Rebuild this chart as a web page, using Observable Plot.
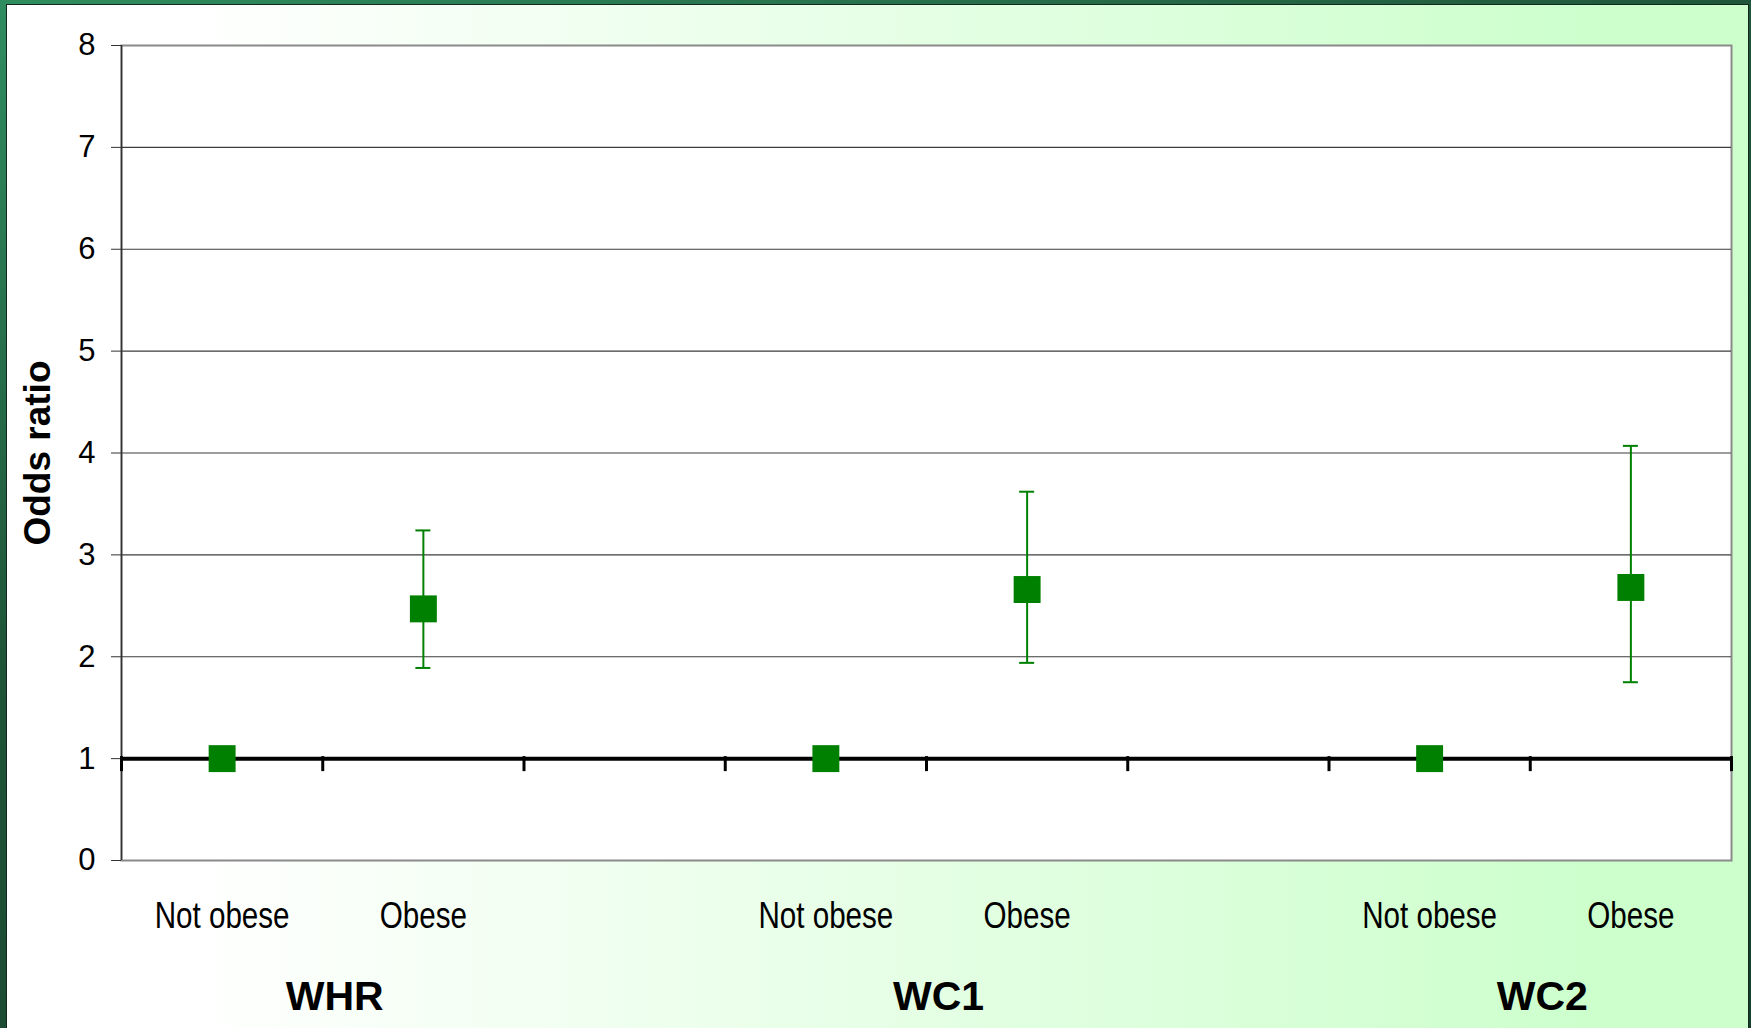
<!DOCTYPE html>
<html>
<head>
<meta charset="utf-8">
<script src="https://cdn.jsdelivr.net/npm/d3@7"></script>
<script src="https://cdn.jsdelivr.net/npm/@observablehq/plot@0.6"></script>
<style>
html, body { margin: 0; padding: 0; width: 1751px; height: 1028px; overflow: hidden; }
body {
  position: relative;
  background: linear-gradient(160deg, #2f8d5f 0%, #1f5438 40%, #173f2b 100%);
  font-family: "Liberation Sans", Arial, sans-serif;
}
#panel {
  position: absolute; left: 6px; top: 4px; width: 1743px; height: 1024px;
  box-sizing: border-box; border: 1px solid #0f2a1c; border-bottom: none;
  background: linear-gradient(to right, #ffffff 0%, #ffffff 10%, #ccffcc 92%, #ccffcc 100%);
}
#chart { position: absolute; left: 0; top: 0; }
</style>
</head>
<body>
<div id="panel"></div>
<div id="chart"></div>
<script>
// ---- data ----
const groupNames = ["WHR", "WC1", "WC2"];
const categoryGroup = ["WHR", "WHR", "WHR", "WC1", "WC1", "WC1", "WC2", "WC2"];
const categoryLabels = ["Not obese", "Obese", "", "Not obese", "Obese", "", "Not obese", "Obese"];
const oddsRatio = [1.00, 2.47, null, 1.00, 2.66, null, 1.00, 2.68];
const ciLower  = [null, 1.89, null, null, 1.94, null, null, 1.75];
const ciUpper  = [null, 3.24, null, null, 3.62, null, null, 4.07];
const yTicks = [0, 1, 2, 3, 4, 5, 6, 7, 8];
const referenceValue = 1;
const yLabel = "Odds ratio";

// ---- tables built from the arrays ----
const rows = categoryLabels.map((label, i) => ({
  pos: i + 0.5, label, group: categoryGroup[i],
  or: oddsRatio[i], lo: ciLower[i], hi: ciUpper[i]
}));
const boundaries = d3.range(categoryLabels.length + 1);
const groupRows = groupNames.map(name => ({
  name,
  pos: d3.mean(rows.filter(r => r.group === name && r.label !== ""), r => r.pos)
}));
const withCI = rows.filter(r => r.lo != null);
const withOR = rows.filter(r => r.or != null);
const green = "#008000";

const chart = Plot.plot({
  width: 1751,
  height: 1028,
  marginLeft: 121,
  marginRight: 20,
  marginTop: 45,
  marginBottom: 168,
  style: { background: "transparent", fontFamily: "'Liberation Sans', Arial, sans-serif", fontSize: "30px", color: "black", overflow: "visible" },
  x: { domain: [0, categoryLabels.length], axis: null },
  y: { domain: [d3.min(yTicks), d3.max(yTicks)] },
  marks: [
    Plot.frame({ fill: "white", stroke: "#8a8a8a", strokeWidth: 2 }),
    Plot.ruleY(yTicks.filter(t => t > d3.min(yTicks) && t < d3.max(yTicks) && t !== referenceValue),
      { stroke: "#3c3c3c", strokeWidth: 1.2 }),
    Plot.ruleX([0], { stroke: "#333", strokeWidth: 1.5 }),
    Plot.axisY({ ticks: yTicks, tickSize: 10, tickPadding: 16, fontSize: 31, label: null, stroke: "#333", tickFormat: d => d }),
    Plot.ruleY([referenceValue], { stroke: "black", strokeWidth: 4 }),
    Plot.ruleX(boundaries, { x: d => d, y1: referenceValue, y2: referenceValue, insetTop: -2, insetBottom: -13, stroke: "black", strokeWidth: 3 }),
    Plot.ruleX(withCI, { x: "pos", y1: "lo", y2: "hi", stroke: green, strokeWidth: 2 }),
    Plot.ruleY(withCI, { y: "lo", x1: "pos", x2: "pos", insetLeft: -7.5, insetRight: -7.5, stroke: green, strokeWidth: 2 }),
    Plot.ruleY(withCI, { y: "hi", x1: "pos", x2: "pos", insetLeft: -7.5, insetRight: -7.5, stroke: green, strokeWidth: 2 }),
    Plot.dot(withOR, { x: "pos", y: "or", symbol: "square", r: 15.2, fill: green, stroke: null }),
    Plot.text(rows.filter(r => r.label !== ""), { x: "pos", text: "label", frameAnchor: "bottom", lineAnchor: "top", dy: 41, fontSize: 37, fill: "black" }),
    Plot.text(groupRows, { x: "pos", text: "name", frameAnchor: "bottom", lineAnchor: "top", dy: 120, dx: 12, fontSize: 41, fontWeight: "bold", fill: "black" }),
    Plot.text([yLabel], { text: d => d, frameAnchor: "left", textAnchor: "middle", rotate: -90, dx: -83, fontSize: 37, fontWeight: "bold", fill: "black" })
  ]
});

const svg = d3.select(chart.tagName.toLowerCase() === "svg" ? chart : chart.querySelector("svg"));
const labelSet = new Set(categoryLabels.filter(d => d !== ""));
const tickSet = new Set(yTicks.map(String));

svg.selectAll("text").each(function () {
  const t = d3.select(this);
  const content = this.textContent.trim();
  if (labelSet.has(content)) {
    // The reference's category labels use a condensed face: squeeze them horizontally.
    const tr = t.attr("transform");
    if (tr) {
      t.attr("transform", tr + " scale(0.8,1)");
    } else {
      const x = +t.attr("x") || 0, y = +t.attr("y") || 0;
      t.attr("x", null).attr("y", null).attr("transform", `translate(${x},${y}) scale(0.8,1)`);
    }
  } else if (tickSet.has(content)) {
    t.style("font-size", "31px");
  }
});

document.getElementById("chart").append(chart);
</script>
</body>
</html>
